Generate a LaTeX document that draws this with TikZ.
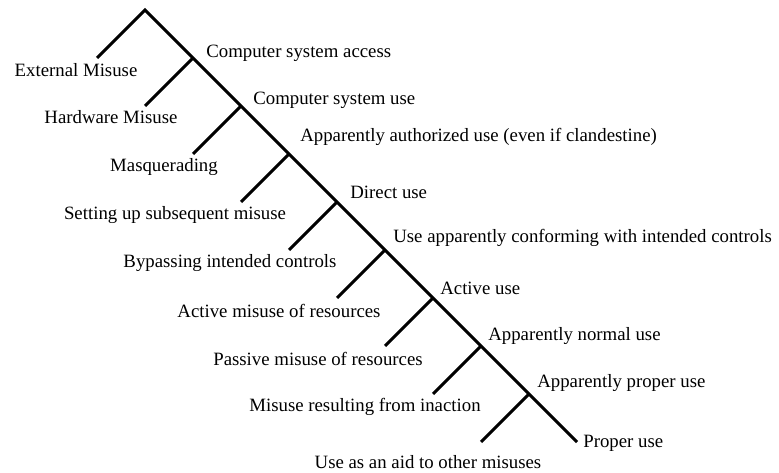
\documentclass[tikz,border=0pt]{standalone}
\usepackage{fontspec}
\setmainfont{Liberation Serif}
\newfontfamily\treefont{Liberation Serif}
\usetikzlibrary{positioning}

\tikzset{
	stem/.style={line width=1.7pt},
	lbl/.style={inner sep=0pt, font=\treefont\fontsize{10.7}{12}\selectfont},
	uselbl/.style={lbl, anchor=west},
}

\begin{document}
\begin{tikzpicture}[x=0.02cm,y=-0.02cm]
	\useasboundingbox (0,0) rectangle (779,473);
	% spine and branches
	\foreach \k in {0,...,9}{\coordinate (J\k) at ({145+48*\k},{10+48*\k});}
	\foreach \k in {0,...,8}{\coordinate (L\k) at ({97+48*\k},{58+48*\k});}
	\draw[stem] (L0)--(J0)--(J9);
	\foreach \k in {1,...,8}{\draw[stem] (J\k)--(L\k);}
	% uses
	\node[uselbl] (access)  at (206,53)  {Computer system access};
	\node[uselbl] (sysuse)  at (253,100) {Computer system use};
	\node[uselbl] (authuse) at (300,137) {Apparently authorized use (even if clandestine)};
	\node[uselbl] (direct)  at (350,192) {Direct use};
	\node[uselbl] (conform) at (393,238) {Use apparently conforming with intended controls};
	\node[uselbl] (active)  at (440,288) {Active use};
	\node[uselbl] (normal)  at (488,336) {Apparently normal use};
	\node[uselbl] (aproper) at (537,383) {Apparently proper use};
	\node[uselbl] (proper)  at (583,443) {Proper use};
	% misuses
	\node[lbl] (external) at (76,70)   {External Misuse};
	\node[lbl] (hardware) at (111,117) {Hardware Misuse};
	\node[lbl] (masq)     at (164,167) {Masquerading};
	\node[lbl] (setup)    at (175,215) {Setting up subsequent misuse};
	\node[lbl] (bypass)   at (230,263) {Bypassing intended controls};
	\node[lbl] (actmis)   at (279,311) {Active misuse of resources};
	\node[lbl] (passmis)  at (318,359) {Passive misuse of resources};
	\node[lbl] (inaction) at (365,407) {Misuse resulting from inaction};
	\node[lbl] (aid)      at (428,462) {Use as an aid to other misuses};
\end{tikzpicture}
\end{document}
